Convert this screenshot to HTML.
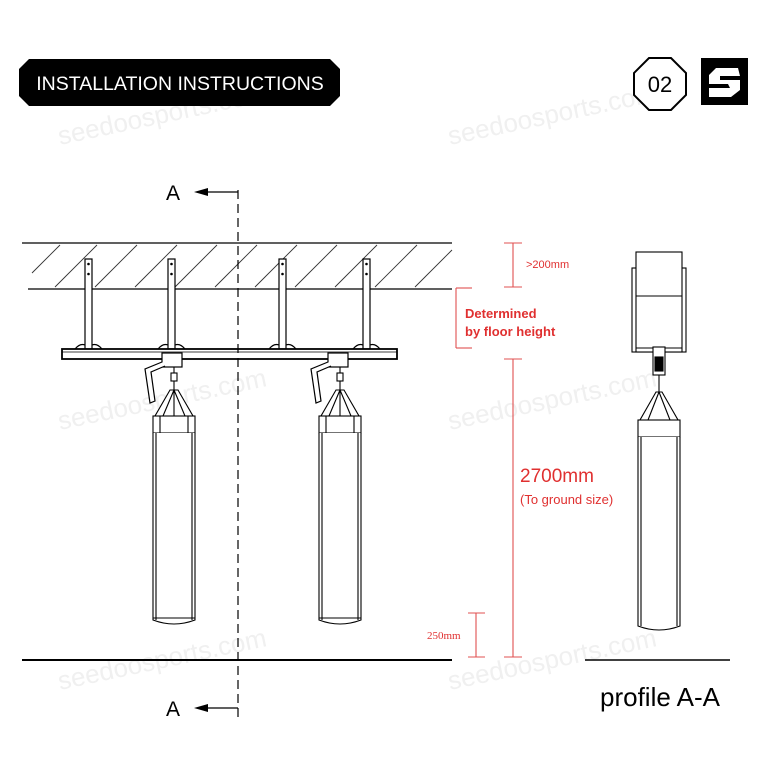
<!DOCTYPE html>
<html><head><meta charset="utf-8"><style>
html,body{margin:0;padding:0;background:#fff;}
svg{display:block;}
</style></head><body>
<svg width="768" height="768" viewBox="0 0 768 768" xmlns="http://www.w3.org/2000/svg" font-family="Liberation Sans, sans-serif">
<rect width="768" height="768" fill="#fff"/>
<!-- watermarks -->
<g fill="#f0f0f0" font-size="26" font-family="Liberation Sans, sans-serif">
<text x="60" y="145" transform="rotate(-12 60 145)">seedoosports.com</text>
<text x="450" y="145" transform="rotate(-12 450 145)">seedoosports.com</text>
<text x="60" y="430" transform="rotate(-12 60 430)">seedoosports.com</text>
<text x="450" y="430" transform="rotate(-12 450 430)">seedoosports.com</text>
<text x="60" y="690" transform="rotate(-12 60 690)">seedoosports.com</text>
<text x="450" y="690" transform="rotate(-12 450 690)">seedoosports.com</text>
</g>
<!-- header -->
<polygon points="29,59 330,59 340,69 340,96 330,106 29,106 19,96 19,69" fill="#000"/>
<text x="180" y="90" fill="#fff" font-size="19.5" text-anchor="middle">INSTALLATION INSTRUCTIONS</text>
<polygon points="649,58 671,58 686,73 686,95 671,110 649,110 634,95 634,73" fill="#fff" stroke="#000" stroke-width="2"/>
<text x="660" y="92" font-size="22" text-anchor="middle">02</text>
<rect x="701" y="58" width="47" height="47" fill="#000"/>
<path d="M738,68 L716,68 L709,75 L709,84 L728,84 L730,88 L709,88 L709,97 L731,97 L740,90 L740,80 L720,80 L720,76 L740,76 Z" fill="#fff"/>
<!-- ceiling -->
<g stroke="#000" stroke-width="1.2" fill="none">
<line x1="22" y1="243" x2="452" y2="243"/>
<line x1="28" y1="289" x2="452" y2="289"/>
</g>
<g stroke="#333" stroke-width="0.9">
<line x1="32" y1="273" x2="60" y2="245"/><line x1="55" y1="287" x2="97" y2="245"/><line x1="95" y1="287" x2="137" y2="245"/>
<line x1="135" y1="287" x2="177" y2="245"/><line x1="175" y1="287" x2="217" y2="245"/><line x1="215" y1="287" x2="257" y2="245"/>
<line x1="255" y1="287" x2="297" y2="245"/><line x1="295" y1="287" x2="337" y2="245"/><line x1="335" y1="287" x2="377" y2="245"/>
<line x1="375" y1="287" x2="417" y2="245"/><line x1="415" y1="287" x2="452" y2="250"/>
</g>
<!-- posts -->
<g stroke="#000" stroke-width="1.2" fill="#fff">
<rect x="85" y="259" width="7" height="90"/>
<rect x="168" y="259" width="7" height="90"/>
<rect x="279" y="259" width="7" height="90"/>
<rect x="363" y="259" width="7" height="90"/>
</g>
<g fill="#000">
<circle cx="88.5" cy="264" r="1.3"/><circle cx="88.5" cy="274" r="1.3"/>
<circle cx="171.5" cy="264" r="1.3"/><circle cx="171.5" cy="274" r="1.3"/>
<circle cx="282.5" cy="264" r="1.3"/><circle cx="282.5" cy="274" r="1.3"/>
<circle cx="366.5" cy="264" r="1.3"/><circle cx="366.5" cy="274" r="1.3"/>
</g>
<!-- rail -->
<rect x="62" y="349" width="335" height="10" fill="#fff" stroke="#000" stroke-width="1.8"/>
<line x1="62" y1="352" x2="397" y2="352" stroke="#000" stroke-width="0.8"/>
<g stroke="#000" stroke-width="1.2" fill="none">
<path d="M75,349 q5,-6 10,-4 M92,345 q5,-2 10,4"/><path d="M158,349 q5,-6 10,-4 M175,345 q5,-2 10,4"/>
<path d="M269,349 q5,-6 10,-4 M286,345 q5,-2 10,4"/><path d="M353,349 q5,-6 10,-4 M370,345 q5,-2 10,4"/>
</g>
<!-- trolleys -->
<g stroke="#000" stroke-width="1.2" fill="#fff">
<rect x="162" y="353" width="20" height="14"/><rect x="328" y="353" width="20" height="14"/>
<path d="M162,362 L145,369 L150,403 L155,401 L151,372 L165,366" />
<path d="M328,362 L311,369 L316,403 L321,401 L317,372 L331,366" />
</g>
<!-- bags -->
<g id="bag" stroke="#000" stroke-width="1.1" fill="#fff">
<line x1="174" y1="367" x2="174" y2="390"/>
<rect x="171" y="373" width="6" height="8"/>
<polygon points="170,390 178,390 193,416 155,416"/>
<line x1="174" y1="390" x2="163" y2="416"/><line x1="174" y1="390" x2="185" y2="416"/><line x1="174" y1="390" x2="174" y2="416"/>
<rect x="153" y="416" width="42" height="17"/>
<line x1="160" y1="416" x2="160" y2="433"/><line x1="188" y1="416" x2="188" y2="433"/>
<path d="M153,433 L153,620 Q174,628 195,620 L195,433"/>
<line x1="156" y1="433" x2="156" y2="620"/><line x1="192" y1="433" x2="192" y2="620"/>
<line x1="153" y1="618" x2="195" y2="618"/>
</g>
<use href="#bag" x="166"/>
<!-- dashed section line -->
<line x1="238" y1="190" x2="238" y2="722" stroke="#000" stroke-width="1.2" stroke-dasharray="9,5"/>
<line x1="200" y1="192" x2="238" y2="192" stroke="#000" stroke-width="1.2"/>
<polygon points="194,192 208,188 208,196" fill="#000"/>
<text x="166" y="200" font-size="21">A</text>
<line x1="200" y1="708" x2="238" y2="708" stroke="#000" stroke-width="1.2"/>
<polygon points="194,708 208,704 208,712" fill="#000"/>
<text x="166" y="716" font-size="21">A</text>
<!-- floor -->
<line x1="22" y1="660" x2="452" y2="660" stroke="#000" stroke-width="2"/>
<line x1="585" y1="660" x2="730" y2="660" stroke="#000" stroke-width="1.5"/>
<!-- dims -->
<g stroke="#e05050" stroke-width="1.1">
<line x1="513" y1="243" x2="513" y2="287"/><line x1="504" y1="243" x2="522" y2="243"/><line x1="504" y1="287" x2="522" y2="287"/>
<line x1="456" y1="288" x2="456" y2="348"/><line x1="456" y1="288" x2="472" y2="288"/><line x1="456" y1="348" x2="472" y2="348"/>
<line x1="513" y1="359" x2="513" y2="657"/><line x1="504" y1="359" x2="522" y2="359"/><line x1="504" y1="657" x2="522" y2="657"/>
<line x1="476" y1="613" x2="476" y2="657"/><line x1="468" y1="613" x2="485" y2="613"/><line x1="468" y1="657" x2="485" y2="657"/>
</g>
<g fill="#e03030">
<text x="526" y="268" font-size="11">&gt;200mm</text>
<text x="465" y="318" font-size="13" font-weight="bold">Determined</text>
<text x="465" y="336" font-size="13" font-weight="bold">by floor height</text>
<text x="520" y="482" font-size="19">2700mm</text>
<text x="520" y="504" font-size="13">(To ground size)</text>
<text x="427" y="639" font-size="11" font-family="Liberation Serif, serif">250mm</text>
</g>
<!-- profile -->
<g stroke="#000" stroke-width="1.1" fill="#fff">
<rect x="632" y="268" width="54" height="84"/>
<rect x="636" y="252" width="46" height="100"/>
<line x1="636" y1="296" x2="682" y2="296"/>
<line x1="636" y1="348" x2="682" y2="348"/>
<rect x="653" y="347" width="12" height="28" fill="#fff"/>
<rect x="655" y="357" width="8" height="14" fill="#000"/>
<line x1="659" y1="375" x2="659" y2="392"/>
<polygon points="656,392 662,392 678,420 640,420"/>
<line x1="659" y1="392" x2="648" y2="420"/><line x1="659" y1="392" x2="670" y2="420"/>
<rect x="638" y="420" width="42" height="17"/>
<path d="M638,437 L638,626 Q659,634 680,626 L680,437"/>
<line x1="641" y1="437" x2="641" y2="626"/><line x1="677" y1="437" x2="677" y2="626"/>
</g>
<text x="600" y="706" font-size="26">profile A-A</text>
</svg>
</body></html>
